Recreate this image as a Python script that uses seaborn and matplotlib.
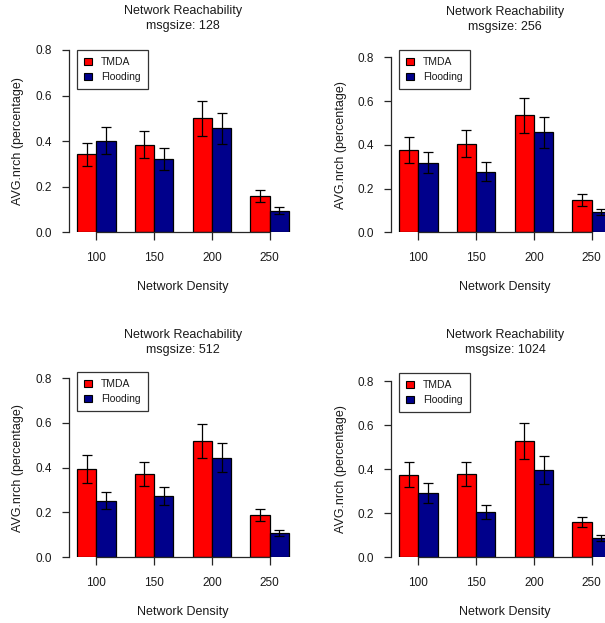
import numpy as np
import pandas as pd
import matplotlib
matplotlib.use("Agg")
import matplotlib.pyplot as plt
import seaborn as sns
from matplotlib.patches import Patch

# ---- data ----
densities = ["100", "150", "200", "250"]
methods = ["TMDA", "Flooding"]
msgsizes = [128, 256, 512, 1024]

tmda_128 = [0.342, 0.385, 0.500, 0.159]
flood_128 = [0.401, 0.322, 0.456, 0.095]
tmda_err_128 = [0.051, 0.060, 0.077, 0.025]
flood_err_128 = [0.059, 0.050, 0.068, 0.016]

tmda_256 = [0.375, 0.405, 0.535, 0.149]
flood_256 = [0.318, 0.277, 0.457, 0.093]
tmda_err_256 = [0.060, 0.061, 0.080, 0.027]
flood_err_256 = [0.049, 0.043, 0.070, 0.015]

tmda_512 = [0.393, 0.373, 0.519, 0.187]
flood_512 = [0.252, 0.273, 0.445, 0.107]
tmda_err_512 = [0.062, 0.054, 0.078, 0.028]
flood_err_512 = [0.038, 0.040, 0.066, 0.014]

tmda_1024 = [0.374, 0.379, 0.527, 0.159]
flood_1024 = [0.292, 0.205, 0.394, 0.086]
tmda_err_1024 = [0.057, 0.055, 0.080, 0.023]
flood_err_1024 = [0.045, 0.031, 0.063, 0.013]

yticks = [0.0, 0.2, 0.4, 0.6, 0.8]

panels = [
    (msgsizes[0], tmda_128, flood_128, tmda_err_128, flood_err_128),
    (msgsizes[1], tmda_256, flood_256, tmda_err_256, flood_err_256),
    (msgsizes[2], tmda_512, flood_512, tmda_err_512, flood_err_512),
    (msgsizes[3], tmda_1024, flood_1024, tmda_err_1024, flood_err_1024),
]

colors = {"TMDA": "#FF0000", "Flooding": "#00008B"}

# layout in pixels: left, top (y=0.8), bottom (y=0), title line-1 center, legend top
W, H = 605, 623
layout = [
    (68.5, 50.0, 232.3, 11.0, 50.0),
    (390.5, 57.3, 232.3, 11.7, 50.0),
    (68.5, 378.3, 557.0, 335.0, 372.0),
    (390.5, 381.0, 557.0, 335.0, 373.0),
]
axw = 229.0

sns.set_style("ticks")
plt.rcParams["font.family"] = ["Liberation Sans", "DejaVu Sans"]
txt_color = "#1a1a1a"

fig = plt.figure(figsize=(W / 100, H / 100), dpi=100)

for (msg, tm, fl, tm_e, fl_e), (left, top, bottom, ty, ltop) in zip(panels, layout):
    h = bottom - top
    ax = fig.add_axes([left / W, 1 - bottom / H, axw / W, h / H])

    df = pd.DataFrame({
        "density": densities * 2,
        "method": ["TMDA"] * 4 + ["Flooding"] * 4,
        "value": tm + fl,
    })
    sns.barplot(data=df, x="density", y="value", hue="method",
                order=densities, hue_order=methods, palette=colors,
                errorbar=None, width=2 / 3, edgecolor="black",
                linewidth=0.9, saturation=1, legend=False, ax=ax)

    for cont, errs in zip(ax.containers, [tm_e, fl_e]):
        xs = [b.get_x() + b.get_width() / 2 for b in cont]
        ys = [b.get_height() for b in cont]
        ax.errorbar(xs, ys, yerr=errs, fmt="none", ecolor="black",
                    elinewidth=0.9, capsize=3.3, capthick=0.9, zorder=5)

    ax.set_xlim(-0.48, 3.48)
    ax.set_ylim(0, 0.8)
    ax.set_yticks(yticks)
    ax.set_yticklabels([f"{v:.1f}" for v in yticks])
    sns.despine(ax=ax)
    ax.spines["left"].set_bounds(0, 0.8)
    ax.spines["bottom"].set_bounds(0, 3)
    for s in ("left", "bottom"):
        ax.spines[s].set_linewidth(0.9)
    ax.tick_params(axis="y", length=5, width=0.9, pad=7, labelsize=8.5,
                   labelcolor=txt_color)
    ax.tick_params(axis="x", length=5.5, width=0.9, pad=9, labelsize=8.5,
                   labelcolor=txt_color)

    ax.set_xlabel("Network Density", fontsize=9, color=txt_color, va="center")
    ax.set_ylabel("AVG.nrch (percentage)", fontsize=9, color=txt_color,
                  va="center")
    ax.xaxis.set_label_coords(0.5, -55 / h)
    ax.yaxis.set_label_coords(-50 / axw, 0.5)

    cx = (left + axw / 2) / W
    fig.text(cx, 1 - ty / H, "Network Reachability", ha="center",
             va="center", fontsize=9, color=txt_color)
    fig.text(cx, 1 - (ty + 15.5) / H, f"msgsize: {msg}", ha="center",
             va="center", fontsize=9, color=txt_color)

    handles = [Patch(facecolor=colors[m], edgecolor="black", linewidth=0.8)
               for m in methods]
    leg = ax.legend(handles, methods, loc="upper left",
                    bbox_to_anchor=(8.5 / axw, 1 + (top - ltop) / h),
                    frameon=True, fancybox=False, fontsize=7.5,
                    handlelength=0.7, handleheight=0.7, handletextpad=0.9,
                    labelspacing=0.45, borderpad=0.7, borderaxespad=0)
    leg.get_frame().set_edgecolor("black")
    leg.get_frame().set_linewidth(0.9)
    for t in leg.get_texts():
        t.set_color(txt_color)

fig.savefig("out.png", dpi=100)
